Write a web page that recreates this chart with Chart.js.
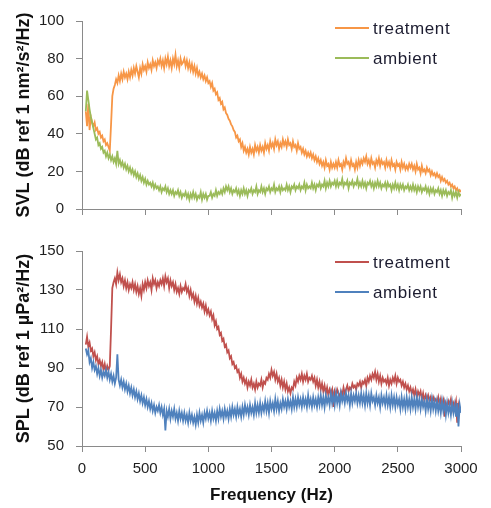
<!DOCTYPE html>
<html>
<head>
<meta charset="utf-8">
<script src="https://cdn.jsdelivr.net/npm/chart.js@4/dist/chart.umd.min.js"></script>
<style>
  html, body { margin: 0; padding: 0; background: #ffffff; }
  #wrap { position: relative; width: 491px; height: 508px; }
  canvas { position: absolute; left: 0; }
  #c1 { top: 0; }
  #c2 { top: 230px; }
</style>
</head>
<body>
<div id="wrap">
  <canvas id="c1" width="491" height="230"></canvas>
  <canvas id="c2" width="491" height="278"></canvas>
</div>
<script>
// ---------- DATA ----------
const frequencies = [
  30, 40, 50, 60, 70, 80, 90, 100, 110, 120, 130, 140, 150, 160, 170, 180, 190, 200,
  210, 220, 230, 240, 250, 260, 270, 280, 290, 300, 310, 320, 330, 340, 350, 360, 370, 380, 390, 400,
  410, 420, 430, 440, 450, 460, 470, 480, 490, 500, 510, 520, 530, 540, 550, 560, 570, 580, 590, 600,
  610, 620, 630, 640, 650, 660, 670, 680, 690, 700, 710, 720, 730, 740, 750, 760, 770, 780, 790, 800,
  810, 820, 830, 840, 850, 860, 870, 880, 890, 900, 910, 920, 930, 940, 950, 960, 970, 980, 990, 1000,
  1010, 1020, 1030, 1040, 1050, 1060, 1070, 1080, 1090, 1100, 1110, 1120, 1130, 1140, 1150, 1160, 1170, 1180, 1190, 1200,
  1210, 1220, 1230, 1240, 1250, 1260, 1270, 1280, 1290, 1300, 1310, 1320, 1330, 1340, 1350, 1360, 1370, 1380, 1390, 1400,
  1410, 1420, 1430, 1440, 1450, 1460, 1470, 1480, 1490, 1500, 1510, 1520, 1530, 1540, 1550, 1560, 1570, 1580, 1590, 1600,
  1610, 1620, 1630, 1640, 1650, 1660, 1670, 1680, 1690, 1700, 1710, 1720, 1730, 1740, 1750, 1760, 1770, 1780, 1790, 1800,
  1810, 1820, 1830, 1840, 1850, 1860, 1870, 1880, 1890, 1900, 1910, 1920, 1930, 1940, 1950, 1960, 1970, 1980, 1990, 2000,
  2010, 2020, 2030, 2040, 2050, 2060, 2070, 2080, 2090, 2100, 2110, 2120, 2130, 2140, 2150, 2160, 2170, 2180, 2190, 2200,
  2210, 2220, 2230, 2240, 2250, 2260, 2270, 2280, 2290, 2300, 2310, 2320, 2330, 2340, 2350, 2360, 2370, 2380, 2390, 2400,
  2410, 2420, 2430, 2440, 2450, 2460, 2470, 2480, 2490, 2500, 2510, 2520, 2530, 2540, 2550, 2560, 2570, 2580, 2590, 2600,
  2610, 2620, 2630, 2640, 2650, 2660, 2670, 2680, 2690, 2700, 2710, 2720, 2730, 2740, 2750, 2760, 2770, 2780, 2790, 2800,
  2810, 2820, 2830, 2840, 2850, 2860, 2870, 2880, 2890, 2900, 2910, 2920, 2930, 2940, 2950, 2960, 2970, 2980, 2990, 3000
];

const svlTreatment = [
  52, 44, 56, 42, 49, 46, 44, 46, 42, 43, 40, 41, 38, 39, 36, 37, 34, 35,
  33, 31, 45, 60, 64, 66, 69, 67, 71, 68, 72, 69, 73, 70, 72, 69, 73, 70, 74, 71,
  75, 72, 76, 73, 70, 75, 72, 77, 74, 76, 73, 78, 75, 77, 74, 79, 76, 78, 75, 79,
  77, 80, 76, 79, 75, 80, 77, 81, 76, 79, 75, 80, 77, 82, 76, 79, 75, 80, 77, 78,
  80, 76, 79, 75, 78, 74, 77, 73, 76, 72, 75, 71, 73, 70, 72, 69, 71, 68, 70, 67,
  68, 65, 67, 63, 64, 61, 62, 58, 59, 56, 57, 53, 54, 51, 50, 48, 47, 45, 44, 42,
  41, 38, 39, 36, 37, 33, 35, 31, 33, 30, 32, 29, 33, 30, 32, 29, 34, 31, 33, 30,
  34, 31, 33, 30, 35, 32, 34, 31, 36, 33, 35, 32, 37, 34, 36, 32, 35, 33, 37, 34,
  36, 33, 37, 34, 35, 32, 36, 33, 34, 31, 35, 32, 33, 30, 32, 29, 31, 28, 30, 28,
  30, 27, 29, 26, 28, 25, 27, 24, 26, 23, 25, 22, 26, 23, 24, 21, 25, 22, 24, 22,
  25, 22, 26, 23, 24, 21, 25, 23, 27, 24, 25, 22, 26, 23, 24, 21, 25, 22, 26, 23,
  26, 24, 27, 25, 28, 24, 26, 23, 27, 24, 25, 22, 26, 24, 27, 23, 26, 24, 25, 22,
  26, 23, 25, 22, 26, 23, 24, 21, 25, 23, 24, 21, 25, 22, 24, 21, 23, 21, 24, 22,
  24, 21, 23, 20, 24, 21, 22, 19, 23, 20, 21, 19, 22, 20, 21, 18, 20, 18, 19, 17,
  19, 17, 18, 15, 17, 15, 16, 14, 15, 13, 14, 12, 13, 11, 12, 10, 11, 9, 10, 9
];

const svlAmbient = [
  52, 63, 58, 53, 49, 46, 43, 40, 37, 38, 34, 35, 32, 33, 30, 31, 28, 30,
  27, 29, 26, 28, 25, 27, 24, 31, 24, 26, 23, 25, 22, 24, 21, 23, 20, 22, 19, 21,
  18, 20, 17, 19, 16, 18, 15, 17, 14, 16, 13, 15, 13, 14, 12, 14, 11, 13, 11, 12,
  10, 12, 9, 11, 10, 12, 9, 11, 8, 10, 8, 10, 7, 9, 8, 10, 7, 9, 6, 8,
  7, 9, 6, 8, 5, 8, 6, 9, 6, 8, 5, 7, 6, 9, 5, 8, 6, 8, 5, 7,
  7, 9, 6, 8, 7, 10, 7, 9, 8, 10, 8, 11, 9, 12, 10, 12, 9, 11, 8, 10,
  9, 11, 8, 10, 7, 10, 8, 11, 8, 10, 7, 10, 9, 11, 8, 10, 9, 12, 8, 10,
  9, 12, 9, 11, 8, 11, 10, 12, 9, 11, 10, 13, 9, 11, 10, 12, 9, 12, 10, 11,
  10, 13, 10, 12, 9, 12, 11, 13, 10, 12, 11, 13, 10, 12, 11, 14, 10, 13, 11, 12,
  11, 14, 11, 13, 10, 13, 12, 14, 11, 13, 12, 15, 11, 14, 12, 15, 12, 14, 13, 15,
  12, 15, 12, 14, 13, 16, 12, 14, 13, 15, 11, 14, 13, 15, 12, 14, 13, 16, 12, 14,
  12, 15, 12, 14, 11, 14, 13, 15, 12, 14, 11, 14, 12, 15, 12, 14, 11, 13, 12, 14,
  11, 14, 12, 13, 10, 13, 11, 14, 11, 13, 10, 13, 11, 13, 10, 12, 11, 13, 10, 12,
  10, 13, 10, 12, 9, 12, 10, 12, 9, 11, 10, 12, 9, 11, 8, 11, 9, 11, 8, 10,
  9, 11, 8, 10, 7, 10, 8, 10, 7, 9, 8, 10, 6, 9, 7, 9, 6, 9, 7, 8
];

const splTreatment = [
  102, 106, 101, 103, 99, 100, 96, 98, 94, 96, 92, 94, 91, 93, 89, 92, 88, 91,
  89, 91, 110, 131, 134, 136, 133, 139, 135, 138, 134, 136, 132, 135, 131, 134, 130, 133, 131, 134,
  130, 133, 129, 132, 128, 131, 127, 133, 130, 134, 131, 135, 132, 134, 130, 136, 133, 135, 131, 134,
  132, 135, 133, 136, 132, 137, 134, 136, 131, 135, 132, 134, 130, 133, 129, 131, 128, 132, 129, 131,
  130, 133, 129, 131, 127, 130, 126, 128, 124, 127, 123, 126, 122, 124, 121, 123, 119, 122, 118, 120,
  117, 119, 115, 117, 112, 114, 110, 111, 107, 108, 104, 105, 101, 102, 98, 99, 95, 96, 92, 93,
  90, 91, 88, 89, 85, 87, 83, 85, 82, 84, 80, 83, 81, 84, 80, 82, 79, 83, 80, 82,
  81, 84, 80, 83, 82, 85, 84, 87, 85, 89, 86, 88, 84, 87, 83, 85, 81, 84, 80, 83,
  79, 82, 78, 80, 77, 80, 79, 83, 81, 85, 83, 86, 84, 87, 83, 86, 84, 87, 83, 85,
  84, 86, 83, 85, 81, 84, 80, 83, 79, 82, 78, 81, 77, 80, 76, 79, 77, 79, 70, 78,
  76, 79, 77, 75, 78, 76, 80, 77, 79, 81, 78, 80, 79, 82, 80, 81, 79, 82, 81, 83,
  80, 83, 82, 84, 81, 85, 83, 86, 84, 87, 85, 88, 84, 87, 83, 86, 82, 85, 83, 84,
  82, 85, 81, 84, 82, 85, 83, 86, 82, 85, 83, 84, 81, 83, 80, 82, 79, 81, 78, 80,
  77, 79, 76, 79, 75, 78, 76, 78, 74, 77, 73, 76, 74, 76, 73, 75, 72, 75, 73, 74,
  72, 75, 71, 74, 70, 73, 65, 72, 70, 73, 71, 74, 69, 72, 70, 73, 62, 71, 68, 70
];

const splAmbient = [
  100, 97, 99, 93, 95, 90, 93, 89, 91, 87, 90, 86, 89, 85, 88, 86, 89, 85,
  88, 84, 87, 83, 86, 82, 85, 97, 84, 81, 84, 80, 83, 79, 82, 78, 81, 77, 80, 76,
  79, 75, 78, 74, 77, 73, 76, 72, 75, 71, 74, 70, 73, 69, 72, 68, 71, 67, 70, 68,
  71, 67, 70, 66, 69, 58, 68, 65, 69, 64, 68, 65, 69, 64, 67, 63, 68, 64, 67, 63,
  67, 63, 66, 62, 67, 63, 66, 62, 65, 61, 66, 62, 67, 63, 66, 62, 67, 64, 68, 64,
  67, 63, 68, 64, 67, 63, 68, 64, 69, 65, 68, 64, 69, 65, 68, 64, 69, 65, 70, 66,
  69, 65, 70, 66, 69, 65, 70, 66, 71, 67, 70, 66, 71, 67, 70, 66, 72, 67, 71, 67,
  72, 67, 71, 68, 73, 68, 72, 67, 73, 69, 72, 68, 74, 69, 73, 68, 72, 69, 74, 70,
  73, 69, 74, 70, 73, 69, 75, 70, 74, 70, 75, 71, 74, 70, 75, 71, 74, 70, 76, 71,
  74, 70, 75, 71, 74, 70, 75, 71, 76, 71, 75, 70, 76, 72, 75, 71, 77, 72, 76, 71,
  77, 72, 76, 71, 77, 73, 76, 72, 77, 73, 76, 71, 77, 72, 76, 73, 77, 72, 76, 72,
  77, 72, 76, 71, 77, 72, 76, 71, 77, 73, 75, 71, 76, 72, 75, 70, 76, 72, 75, 71,
  76, 71, 75, 70, 76, 71, 75, 70, 75, 71, 74, 69, 75, 70, 74, 69, 75, 70, 74, 69,
  75, 70, 74, 69, 75, 70, 74, 69, 74, 70, 73, 68, 74, 69, 73, 68, 74, 69, 73, 68,
  73, 68, 72, 67, 73, 68, 72, 66, 72, 67, 71, 66, 72, 67, 71, 65, 72, 60, 71, 67
];

const seriesLabels = ['treatment', 'ambient'];
const xTicks = [0, 500, 1000, 1500, 2000, 2500, 3000];
const svlTicks = [0, 20, 40, 60, 80, 100];
const splTicks = [50, 70, 90, 110, 130, 150];
const svlTitle = 'SVL (dB ref 1 nm\u00B2/s\u00B2/Hz)';
const splTitle = 'SPL (dB ref 1 \u00B5Pa\u00B2/Hz)';
const xTitle = 'Frequency (Hz)';

// ---------- helpers ----------
const FONT = '"Liberation Sans", Arial, sans-serif';
const AXIS_COLOR = '#8a8a8a';
const TEXT_COLOR = '#1e1e1e';

function pts(values) {
  return values.map((v, i) => ({ x: frequencies[i], y: v }));
}

const legendPlugin = {
  id: 'insideLegend',
  afterDatasetsDraw(chart, args, opts) {
    const ctx = chart.ctx;
    ctx.save();
    chart.data.datasets.forEach((ds, i) => {
      const y = opts.ys[i];
      ctx.strokeStyle = ds.borderColor;
      ctx.lineWidth = 2;
      ctx.beginPath();
      ctx.moveTo(opts.x, y);
      ctx.lineTo(opts.x + 34, y);
      ctx.stroke();
      ctx.fillStyle = '#1c1c30';
      ctx.font = '17px ' + FONT;
      try { ctx.letterSpacing = '0.6px'; } catch (e) {}
      ctx.textBaseline = 'middle';
      ctx.textAlign = 'left';
      ctx.fillText(ds.label, opts.x + 38, y + 1);
    });
    ctx.restore();
  }
};

function makeChart(canvasId, cfg) {
  const tickSet = cfg.yTicks;
  return new Chart(document.getElementById(canvasId), {
    type: 'line',
    data: {
      datasets: [
        { label: seriesLabels[0], data: pts(cfg.treat), borderColor: cfg.colors[0], borderWidth: 1.8, pointRadius: 0, tension: 0, order: 2 },
        { label: seriesLabels[1], data: pts(cfg.amb), borderColor: cfg.colors[1], borderWidth: 1.8, pointRadius: 0, tension: 0, order: 1 }
      ]
    },
    options: {
      responsive: false,
      animation: false,
      layout: { padding: { top: cfg.padTop, right: 30, left: 0, bottom: 0 } },
      plugins: {
        legend: { display: false },
        tooltip: { enabled: false },
        insideLegend: { x: 335, ys: cfg.legendYs }
      },
      scales: {
        x: {
          type: 'linear',
          min: xTicks[0],
          max: xTicks[xTicks.length - 1],
          afterBuildTicks: s => { s.ticks = xTicks.map(v => ({ value: v })); },
          afterFit: s => { s.height = cfg.xHeight; },
          border: { display: true, color: AXIS_COLOR, width: 1 },
          grid: { drawOnChartArea: false, drawTicks: true, tickLength: 6, color: AXIS_COLOR },
          ticks: {
            display: cfg.showX,
            padding: 8,
            color: TEXT_COLOR,
            font: { family: FONT, size: 15 },
            maxRotation: 0,
            autoSkip: false,
            callback: v => String(v)
          },
          title: {
            display: cfg.showX,
            text: xTitle,
            color: '#111111',
            font: { family: FONT, size: 17, weight: 'bold' },
            padding: { top: 0, bottom: 2 }
          }
        },
        y: {
          type: 'linear',
          min: tickSet[0],
          max: tickSet[tickSet.length - 1],
          afterBuildTicks: s => { s.ticks = tickSet.map(v => ({ value: v })); },
          afterFit: s => { s.width = 82; },
          border: { display: true, color: AXIS_COLOR, width: 1 },
          grid: { drawOnChartArea: false, drawTicks: true, tickLength: 6, color: AXIS_COLOR },
          ticks: {
            padding: 12,
            color: TEXT_COLOR,
            font: { family: FONT, size: 15 },
            callback: v => String(v)
          },
          title: {
            display: true,
            text: cfg.yTitle,
            color: '#111111',
            font: { family: FONT, size: 18, weight: 'bold' },
            padding: { top: 13, bottom: 0 }
          }
        }
      }
    },
    plugins: [legendPlugin]
  });
}

makeChart('c1', {
  treat: svlTreatment, amb: svlAmbient,
  colors: ['#F79646', '#9BBB59'],
  yTicks: svlTicks, yTitle: svlTitle,
  padTop: 14, xHeight: 18, showX: false,
  legendYs: [28, 58]
});

makeChart('c2', {
  treat: splTreatment, amb: splAmbient,
  colors: ['#C0504D', '#4F81BD'],
  yTicks: splTicks, yTitle: splTitle,
  padTop: 17, xHeight: 62, showX: true,
  legendYs: [32, 62]
});
</script>
</body>
</html>
